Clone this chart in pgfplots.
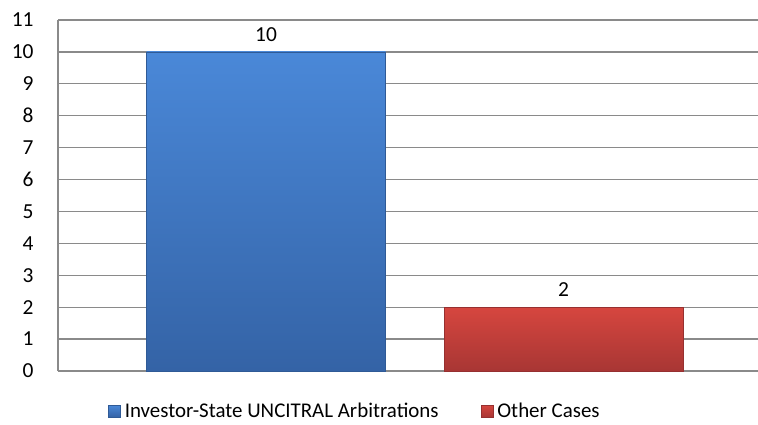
\documentclass[border=0pt]{standalone}
\usepackage{pgfplots}
\pgfplotsset{compat=1.18}
\usepackage{fontspec}
\setmainfont{Carlito}
\definecolor{gridgray}{HTML}{8A8A8A}
\definecolor{bluetop}{HTML}{4A88D8}
\definecolor{bluebot}{HTML}{3463A6}
\definecolor{blueedge}{HTML}{2F5A96}
\definecolor{redtop}{HTML}{D6463F}
\definecolor{redbot}{HTML}{A83634}
\definecolor{rededge}{HTML}{963030}
\begin{document}
\begin{tikzpicture}
\begin{axis}[
  at={(58bp,54bp)}, anchor=south west,
  scale only axis, width=700bp, height=351bp,
  xmin=58, xmax=758, ymin=0, ymax=11,
  ytick={0,...,11}, xtick=\empty,
  /pgf/number format/assume math mode=true,
  ymajorgrids, grid style={draw=gridgray, line width=1.3bp},
  axis lines=left, axis line style={draw=gridgray, line width=1.3bp, -},
  major tick length=0pt,
  tick label style={font=\fontsize{21.5}{25}\selectfont},
  yticklabel style={anchor=east, xshift=-21bp},
  clip=false,
  legend columns=2,
  legend style={at={(0.424,-0.114)}, anchor=center, draw=none, fill=none,
    font=\fontsize{21}{25}\selectfont, inner sep=0pt,
    /tikz/every odd column/.append style={column sep=2bp},
    /tikz/every even column/.append style={column sep=40bp},
    cells={anchor=west}},
  nodes near coords,
  every node near coord/.append style={font=\fontsize{21.5}{25}\selectfont, text=black, anchor=south, yshift=7bp},
]
\addplot[ybar, bar width=239, bar shift=0, top color=bluetop, bottom color=bluebot, draw=blueedge, line width=0.8bp,
  legend image code/.code={\fill[top color=bluetop, bottom color=bluebot] (0bp,-6bp) rectangle (12bp,6bp);}]
  coordinates {(266,10)};
\addlegendentry{Investor-State UNCITRAL Arbitrations}
\addplot[ybar, bar width=239, bar shift=0, top color=redtop, bottom color=redbot, draw=rededge, line width=0.8bp,
  legend image code/.code={\fill[top color=redtop, bottom color=redbot] (0bp,-6bp) rectangle (12bp,6bp);}]
  coordinates {(563.5,2)};
\addlegendentry{Other Cases}
\end{axis}
\pgfresetboundingbox
\path (0,0) rectangle (758bp,425bp);
\end{tikzpicture}
\end{document}
